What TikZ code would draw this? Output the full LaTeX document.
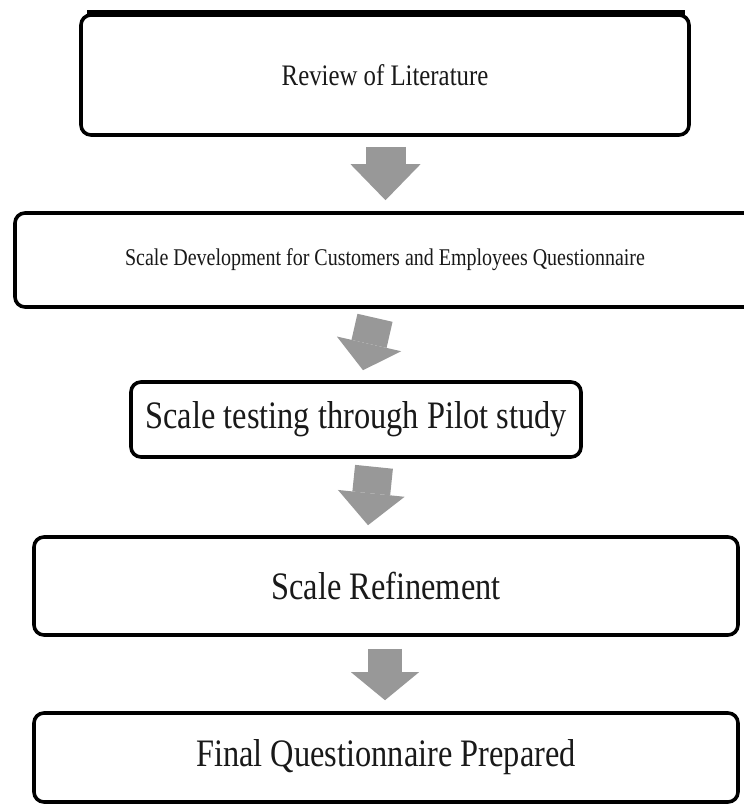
\documentclass[tikz,border=0pt]{standalone}
\usepackage{graphicx}
\usepackage{fontspec}
\setmainfont{Liberation Serif}
\usetikzlibrary{arrows.meta,calc}
\definecolor{arrowgray}{RGB}{152,152,152}
\definecolor{textdark}{RGB}{25,25,25}
\newcommand{\tallertext}[2]{\scalebox{1}[1.2]{\fontsize{#1}{#1}\selectfont #2}}
\tikzset{
  stepbox/.style={draw=black, line width=3.6pt, rounded corners=10pt, fill=white,
    inner sep=0pt, text=textdark, anchor=center},
  flowarrow/.style n args={3}{draw=arrowgray, line width=#1pt,
    -{Triangle[width=#2pt,length=#3pt,line width=0pt,fill=arrowgray]}}
}
\begin{document}
\begin{tikzpicture}[x=1pt,y=-1pt]
\useasboundingbox (0,0) rectangle (744,806);
\fill[white] (0,0) rectangle (744,806);
% boxes
\node[stepbox, minimum width=608pt, minimum height=120pt] (b1) at (385,75)
  {\tallertext{24.8}{Review of Literature}};
\fill[black] (87,10) rectangle (685,17);
\node[stepbox, minimum width=740pt, minimum height=94pt] (b2) at (385,260)
  {\tallertext{20}{Scale Development for Customers and Employees Questionnaire}};
\node[stepbox, minimum width=450pt, minimum height=75pt] (b3) at (356,419.5)
  {\tallertext{32.4}{Scale testing through Pilot study}};
\node[stepbox, minimum width=704pt, minimum height=98pt] (b4) at (386,586)
  {\tallertext{32.4}{Scale Refinement}};
\node[stepbox, minimum width=704pt, minimum height=89pt] (b5) at (386,757.5)
  {\tallertext{32.4}{Final Questionnaire Prepared}};
% arrows
\draw[flowarrow={40}{70}{36}] ($(b1.south)+(0.5,10)$) -- ($(b2.north)+(0.5,-11)$);
\draw[flowarrow={36}{66}{27}] ($(b2.south)+(-10,9)$) -- ($(b3.north)+(7,-10)$);
\draw[flowarrow={38}{67}{32}] ($(b3.south)+(18,8)$) -- ($(b4.north)+(-18,-10)$);
\draw[flowarrow={34}{68}{28}] ($(b4.south)+(-1,12)$) -- ($(b5.north)+(-1,-11)$);
\end{tikzpicture}
\end{document}
